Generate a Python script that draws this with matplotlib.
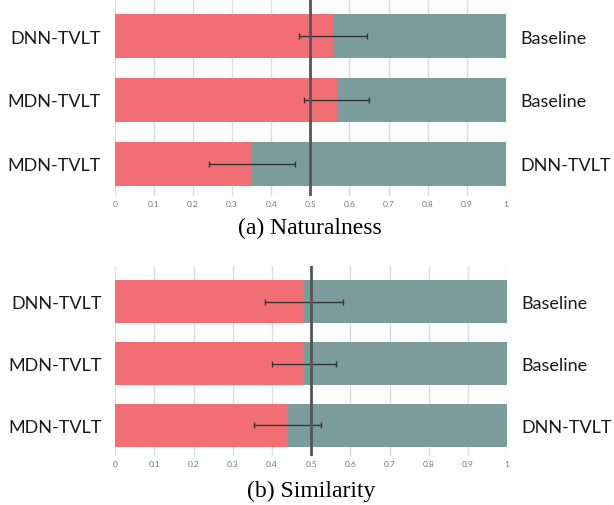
import numpy as np
import matplotlib
matplotlib.use('Agg')
from matplotlib import pyplot as plt

left_labels = ['DNN-TVLT', 'MDN-TVLT', 'MDN-TVLT']
right_labels = ['Baseline', 'Baseline', 'DNN-TVLT']

nat_pref = [0.559, 0.567, 0.352]
nat_err = [0.087, 0.084, 0.110]
sim_pref = [0.481, 0.481, 0.440]
sim_err = [0.099, 0.082, 0.086]

titles = ['(a) Naturalness', '(b) Similarity']
ticks = [0, 0.1, 0.2, 0.3, 0.4, 0.5, 0.6, 0.7, 0.8, 0.9, 1]
tick_labels = ['0', '0.1', '0.2', '0.3', '0.4', '0.5', '0.6', '0.7', '0.8', '0.9', '1']

RED = '#f06e74'
TEAL = '#7b9c9d'


def draw_panel(ax, pref, err, title, pad):
    y = np.arange(len(pref))
    pref = np.array(pref)
    ax.barh(y, pref, height=0.7, color=RED, zorder=2)
    ax.barh(y, 1 - pref, left=pref, height=0.7, color=TEAL, zorder=2)
    ax.errorbar(pref, y, xerr=err, fmt='none', ecolor='#333333',
                elinewidth=1.0, capsize=2.5, capthick=1.0, zorder=4)
    ax.axvline(0.5, color='#555555', lw=2, zorder=5)
    ax.set_xlim(0, 1)
    ax.set_ylim(2.5, -0.58)
    ax.set_xticks(ticks)
    ax.set_xticklabels(tick_labels, fontsize=6, color='#777777', family='Lato')
    ax.grid(axis='x', color='#dddddd', lw=1, zorder=0)
    ax.tick_params(axis='x', length=0, pad=3)
    ax.tick_params(axis='y', length=0, pad=10)
    ax.set_yticks(y)
    ax.set_yticklabels(left_labels, fontsize=13, family='Lato', color='#1a1a1a')
    for s in ax.spines.values():
        s.set_visible(False)
    ax2 = ax.twinx()
    ax2.set_ylim(ax.get_ylim())
    ax2.set_yticks(y)
    ax2.set_yticklabels(right_labels, fontsize=13, family='Lato', color='#1a1a1a')
    ax2.tick_params(axis='y', length=0, pad=10)
    for s in ax2.spines.values():
        s.set_visible(False)
    ax.set_xlabel(title, family='Liberation Serif', fontsize=17, labelpad=pad)


fig = plt.figure(figsize=(6.14, 5.06), dpi=100)
ax_a = fig.add_axes([0.1868, 0.611, 0.6373, 0.389])
ax_b = fig.add_axes([0.1878, 0.097, 0.6380, 0.375])

draw_panel(ax_a, nat_pref, nat_err, titles[0], 7)
draw_panel(ax_b, sim_pref, sim_err, titles[1], 9)

plt.savefig('out.png', dpi=100)
